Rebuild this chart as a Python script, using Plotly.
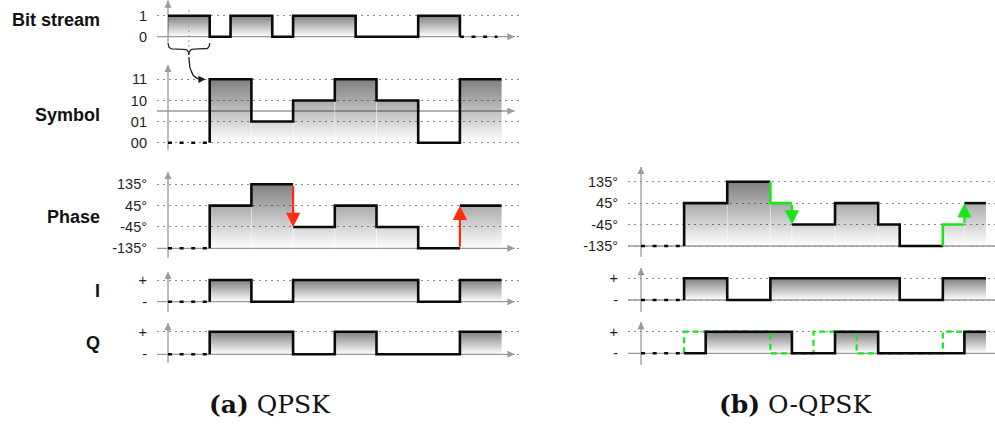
import numpy as np
import plotly.graph_objects as go

W, H = 995, 427

# ---------------- data ----------------
bits = [1, 1, 0, 1, 1, 0, 1, 1, 1, 0, 0, 0, 1, 1]
symbol_labels = ["00", "01", "10", "11"]
symbols = ["11", "01", "10", "11", "10", "00", "11"]
phase_levels = [-135, -45, 45, 135]
qpsk_phase = [45, 135, -45, 45, -45, -135, 45]
qpsk_i = [1, 0, 1, 1, 1, 0, 1]
qpsk_q = [1, 1, 0, 1, 0, 0, 1]
# O-QPSK, one value per half symbol (Q delayed by half a symbol)
oqpsk_phase = [45, 45, 135, 135, 45, -45, -45, 45, 45, -45, -135, -135, -45, 45]
oqpsk_i = [1, 1, 0, 0, 1, 1, 1, 1, 1, 1, 0, 0, 1, 1]
oqpsk_q = [0, 1, 1, 1, 1, 0, 0, 1, 1, 0, 0, 0, 0, 1]
qpsk_jumps = [2, 6]       # symbols reached through a 180 degree phase jump
oqpsk_steps = [4, 12]     # half symbols holding the intermediate phase
row_titles = ["Bit stream", "Symbol", "Phase", "I", "Q"]
pm_labels = ["-", "+"]

# ---------------- geometry ----------------
COLS = {"a": dict(origin=168, unit=20.85, span=(157, 520)),
        "b": dict(origin=641, unit=21.56, span=(628, 995))}
# name: column, two reference levels with their pixel rows, pixel window
ROWS = {
    "a_bit":   ("a", (0, 36.7), (1, 15.7), (0, 52)),
    "a_sym":   ("a", (0, 142.7), (3, 79.3), (40, 156)),
    "a_phase": ("a", (-135, 248.3), (135, 184.3), (165, 262)),
    "a_i":     ("a", (0, 301.7), (1, 280.0), (268, 316)),
    "a_q":     ("a", (0, 354.3), (1, 331.7), (320, 368)),
    "b_phase": ("b", (-135, 246.0), (135, 181.7), (163, 262)),
    "b_i":     ("b", (0, 300.0), (1, 278.3), (264, 316)),
    "b_q":     ("b", (0, 353.3), (1, 331.7), (318, 368)),
}

TICK_FONT = dict(family="Liberation Sans, Arial", size=14.5, color="#1e1e1e")
GRID_DASH = "2px,4px"
AXIS_GRAY = "#9a9a9a"
BLACK = "#0a0a0a"
RED = "#ff2d0a"
GREEN = "#19e619"
LW = 2.6
LEAD_DASH = "4px,7.6px"

fig = go.Figure()
layout = dict(width=W, height=H, margin=dict(l=0, r=0, t=0, b=0),
              paper_bgcolor="white", plot_bgcolor="rgba(0,0,0,0)",
              showlegend=False)
annotations = []
axis_ids = {}


def ids(i):
    return ("x" if i == 1 else f"x{i}", "y" if i == 1 else f"y{i}")


def setup_axes(i, name, tickvals, ticktext):
    col, (v0, p0), (v1, p1), (top, bot) = ROWS[name]
    c = COLS[col]
    px_per = (p0 - p1) / (v1 - v0)
    yr = [v0 - (bot - p0) / px_per, v0 + (p0 - top) / px_per]
    xr = [(c["span"][0] - c["origin"]) / c["unit"], (c["span"][1] - c["origin"]) / c["unit"]]
    xk = "xaxis" if i == 1 else f"xaxis{i}"
    yk = "yaxis" if i == 1 else f"yaxis{i}"
    xa, ya = ids(i)
    layout[xk] = dict(domain=[c["span"][0] / W, c["span"][1] / W], range=xr,
                      anchor=ya, visible=False, fixedrange=True)
    layout[yk] = dict(domain=[1 - bot / H, 1 - top / H], range=yr, anchor=xa,
                      tickvals=tickvals, ticktext=ticktext, tickfont=TICK_FONT,
                      ticks="", ticklabelstandoff=9, showline=False, zeroline=False,
                      showgrid=True, gridcolor="#8c8c8c", gridwidth=1,
                      griddash=GRID_DASH, fixedrange=True)
    axis_ids[name] = (xa, ya)


def line(name, x, y, color=BLACK, width=LW, dash="solid", shape="linear"):
    xa, ya = axis_ids[name]
    fig.add_trace(go.Scatter(x=x, y=y, mode="lines", xaxis=xa, yaxis=ya,
                             line=dict(color=color, width=width, dash=dash, shape=shape),
                             hoverinfo="skip", connectgaps=False))


def axis_arrows(name, x_left, x_right, base, y_low, y_high):
    xa, ya = axis_ids[name]
    line(name, [x_left, x_right], [base, base], color=AXIS_GRAY, width=1.3)
    line(name, [0, 0], [y_low, y_high], color=AXIS_GRAY, width=1.3)
    for (x, y, ax, ay) in [(x_right, base, -9, 0), (0, y_high, 0, 9)]:
        annotations.append(dict(x=x, y=y, xref=xa, yref=ya, ax=ax, ay=ay, text="",
                                showarrow=True, arrowhead=2, arrowsize=1.1,
                                arrowwidth=1.3, arrowcolor=AXIS_GRAY))


def step_fill(name, edges, vals, base, lo, hi):
    xa, ya = axis_ids[name]
    xs, ys = [edges[0]], [base]
    for k, v in enumerate(vals):
        xs += [edges[k], edges[k + 1]]
        ys += [v, v]
    xs += [edges[-1], edges[0]]
    ys += [base, base]
    fig.add_trace(go.Scatter(
        x=xs, y=ys, mode="lines", fill="toself", xaxis=xa, yaxis=ya,
        line=dict(width=0, color="rgba(0,0,0,0)"), hoverinfo="skip",
        fillgradient=dict(type="vertical", start=lo, stop=hi,
                          colorscale=[[0, "rgba(0,0,0,0.0)"], [1, "rgba(0,0,0,0.5)"]])))


def separators(name, edges, vals, base):
    xs, ys = [], []
    for k in range(1, len(vals)):
        if vals[k] != vals[k - 1]:
            xs += [edges[k], edges[k], None]
            ys += [base, max(vals[k], vals[k - 1]), None]
    line(name, xs, ys, color="rgba(255,255,255,0.55)", width=1)


def step_line(name, edges, vals, base=None, hidden=(), cut=(), fall_end=False, **kw):
    xs, ys = [], []
    if base is not None and 0 not in hidden:
        xs.append(edges[0]); ys.append(base)
    for k, v in enumerate(vals):
        if k in hidden:
            xs.append(None); ys.append(None)
            continue
        if k in cut or (k - 1) in hidden:
            xs.append(None); ys.append(None)
        xs += [edges[k], edges[k + 1]]
        ys += [v, v]
    if fall_end:
        xs.append(edges[-1]); ys.append(base if base is not None else 0)
    line(name, xs, ys, **kw)


# ---------------- axes ----------------
order = list(ROWS)
tick_map = {
    "a_bit": ([0, 1], ["0", "1"]),
    "a_sym": ([0, 1, 2, 3], symbol_labels),
    "a_phase": (phase_levels, [f"{p}°" for p in phase_levels]),
    "a_i": ([0, 1], pm_labels),
    "a_q": ([0, 1], pm_labels),
    "b_phase": (phase_levels, [f"{p}°" for p in phase_levels]),
    "b_i": ([0, 1], pm_labels),
    "b_q": ([0, 1], pm_labels),
}
for i, name in enumerate(order, start=1):
    setup_axes(i, name, *tick_map[name])

# axis arrows (x from left stub to arrow tip, y from below base to tip)
axis_arrows("a_bit", -0.55, 16.62, 0, -0.25, 1.72)
axis_arrows("a_sym", -0.55, 16.62, 1.5, -0.35, 3.68)
axis_arrows("a_phase", -0.55, 16.62, -135, -176, 187)
axis_arrows("a_i", -0.55, 16.62, 0, -0.47, 1.37)
axis_arrows("a_q", -0.55, 16.62, 0, -0.38, 1.38)
axis_arrows("b_phase", -0.6, 16.45, -135, -181, 197)
axis_arrows("b_i", -0.6, 16.45, 0, -0.55, 1.47)
axis_arrows("b_q", -0.6, 16.45, 0, -0.54, 1.45)

# ---------------- QPSK column ----------------
bit_edges = list(range(len(bits) + 1))
sym_edges = [2 + 2 * k for k in range(len(symbols) + 1)]
sym_vals = [symbol_labels.index(s) for s in symbols]

# bit stream
step_fill("a_bit", bit_edges, bits, 0, 0, 1)
line("a_bit", [1, 1], [1.27, -0.63], color="#9a9a9a", width=1, dash="2px,3px")
step_line("a_bit", bit_edges, bits, fall_end=True, base=None)
line("a_bit", [bit_edges[-1], 15.8], [0, 0], dash=LEAD_DASH)

# brace under the first symbol and the arrow to the symbol row
def qbez(p0, p1, p2, n=14):
    t = np.linspace(0, 1, n)[:, None]
    pts = (1 - t) ** 2 * np.array(p0) + 2 * (1 - t) * t * np.array(p1) + t ** 2 * np.array(p2)
    return list(pts[:, 0]), list(pts[:, 1])

y_end, y_band, y_tip = 4.72, 4.43, 4.15
bx, by = [], []
for seg in [((0, y_end), (0, y_band), (0.25, y_band)),
            ((0.25, y_band), (0.5, y_band), (0.75, y_band)),
            ((0.75, y_band), (1, y_band), (1, y_tip)),
            ((1, y_tip), (1, y_band), (1.25, y_band)),
            ((1.25, y_band), (1.5, y_band), (1.75, y_band)),
            ((1.75, y_band), (2, y_band), (2, y_end))]:
    sx, sy = qbez(*seg)
    bx += sx; by += sy
line("a_sym", bx, by, color="#2a2a2a", width=1.3)
cx, cy = qbez((1, 4.05), (1.02, 3.0), (1.62, 3.0))
line("a_sym", cx, cy, color="#1a1a1a", width=1.3)
annotations.append(dict(x=1.8, y=3, xref=axis_ids["a_sym"][0], yref=axis_ids["a_sym"][1],
                        ax=1.55, ay=3, axref=axis_ids["a_sym"][0], ayref=axis_ids["a_sym"][1],
                        text="", showarrow=True, arrowhead=2, arrowsize=1.1,
                        arrowwidth=1.3, arrowcolor="#1a1a1a"))

# symbol, phase, I, Q rows
for name, vals, base, lo, hi in [("a_sym", sym_vals, 0, 0, 3),
                                 ("a_phase", qpsk_phase, -135, -135, 135),
                                 ("a_i", qpsk_i, 0, 0, 1),
                                 ("a_q", qpsk_q, 0, 0, 1)]:
    step_fill(name, sym_edges, vals, base, lo, hi)
    if name in ("a_sym", "a_phase"):
        separators(name, sym_edges, vals, base)
    line(name, [0, sym_edges[0]], [base, base], dash=LEAD_DASH)
    step_line(name, sym_edges, vals, base=base,
              cut=qpsk_jumps if name == "a_phase" else ())

xa, ya = axis_ids["a_phase"]
for k in qpsk_jumps:
    annotations.append(dict(x=sym_edges[k], y=qpsk_phase[k], ax=sym_edges[k], ay=qpsk_phase[k - 1],
                            xref=xa, yref=ya, axref=xa, ayref=ya, text="", showarrow=True,
                            arrowhead=2, arrowsize=1.3, arrowwidth=2.2, arrowcolor=RED))

# ---------------- O-QPSK column ----------------
half_edges = [2 + k for k in range(len(oqpsk_phase) + 1)]
q_sym_edges = [2 + 2 * k for k in range(len(qpsk_q) + 1)]

step_fill("b_phase", half_edges, oqpsk_phase, -135, -135, 135)
separators("b_phase", half_edges, oqpsk_phase, -135)
line("b_phase", [0, half_edges[0]], [-135, -135], dash=LEAD_DASH)
step_line("b_phase", half_edges, oqpsk_phase, base=-135, hidden=oqpsk_steps)
xa, ya = axis_ids["b_phase"]
for k in oqpsk_steps:
    gx = [half_edges[k], half_edges[k], half_edges[k + 1]]
    gy = [oqpsk_phase[k - 1], oqpsk_phase[k], oqpsk_phase[k]]
    line("b_phase", gx, gy, color=GREEN)
    annotations.append(dict(x=half_edges[k + 1], y=oqpsk_phase[k + 1],
                            ax=half_edges[k + 1], ay=oqpsk_phase[k],
                            xref=xa, yref=ya, axref=xa, ayref=ya, text="", showarrow=True,
                            arrowhead=2, arrowsize=1.3, arrowwidth=2.2, arrowcolor=GREEN))

step_fill("b_i", half_edges, oqpsk_i, 0, 0, 1)
line("b_i", [0, half_edges[0]], [0, 0], dash=LEAD_DASH)
step_line("b_i", half_edges, oqpsk_i, base=0)

step_fill("b_q", half_edges, oqpsk_q, 0, 0, 1)
line("b_q", [0, half_edges[0]], [0, 0], dash=LEAD_DASH)
step_line("b_q", q_sym_edges, qpsk_q, base=0, color=GREEN, width=2.2, dash="6px,4px")
step_line("b_q", half_edges, oqpsk_q, base=0)

# ---------------- titles ----------------
title_rows = [20, 115, 217, 291, 343]
for text, py in zip(row_titles, title_rows):
    annotations.append(dict(x=102 / W, y=1 - py / H, xref="paper", yref="paper",
                            text=f"<b>{text}</b>", showarrow=False, xanchor="right",
                            yanchor="middle",
                            font=dict(family="Liberation Sans, Arial", size=18, color="#111")))

for html, cx_px in [("<b>(a)</b> QPSK", 270), ("<b>(b)</b> O-QPSK", 795)]:
    annotations.append(dict(x=cx_px / W, y=1 - 404 / H, xref="paper", yref="paper",
                            text=html, showarrow=False, xanchor="center", yanchor="middle",
                            font=dict(family="DejaVu Serif", size=25, color="#111")))

layout["annotations"] = annotations
fig.update_layout(**layout)
fig.write_html("out.html")
